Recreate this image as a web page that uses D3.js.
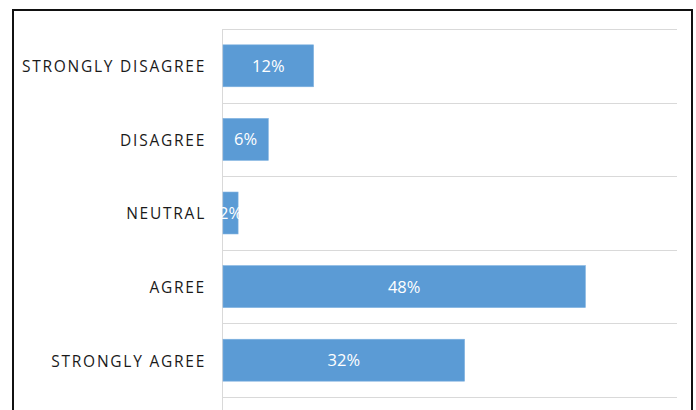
<!DOCTYPE html>
<html>
<head>
<meta charset="utf-8">
<script src="https://cdn.jsdelivr.net/npm/d3@7"></script>
<style>
  html, body { margin: 0; padding: 0; background: #fff; }
  svg { display: block; }
</style>
</head>
<body>
<svg id="chart" width="696" height="410"></svg>
<script>
// Survey response shares
const categories = ["STRONGLY DISAGREE", "DISAGREE", "NEUTRAL", "AGREE", "STRONGLY AGREE"];
const values = [12, 6, 2, 48, 32];
const valueLabels = ["12%", "6%", "2%", "48%", "32%"];

const svg = d3.select("#chart");

// Outer frame
svg.append("rect")
  .attr("x", 13).attr("y", 10)
  .attr("width", 679).attr("height", 420)
  .attr("fill", "none")
  .attr("stroke", "#111")
  .attr("stroke-width", 2);

const plot = { left: 222, right: 677, top: 29, bottom: 397 };

const x = d3.scaleLinear().domain([0, 60]).range([223, 676]);
const y = d3.scaleBand().domain(categories).range([plot.top, plot.bottom]).paddingInner(0.43).paddingOuter(0.215);

// Horizontal separators between categories
const gridYs = d3.range(categories.length + 1).map(i => plot.top + i * (plot.bottom - plot.top) / categories.length);
svg.append("g").selectAll("line")
  .data(gridYs)
  .join("line")
  .attr("x1", plot.left).attr("x2", plot.right)
  .attr("y1", d => Math.round(d) + 0.5).attr("y2", d => Math.round(d) + 0.5)
  .attr("stroke", "#d9d9d9").attr("stroke-width", 1);

// Category axis line
svg.append("line")
  .attr("x1", plot.left + 0.5).attr("x2", plot.left + 0.5)
  .attr("y1", plot.top).attr("y2", 410)
  .attr("stroke", "#d9d9d9").attr("stroke-width", 1);

// Bars
svg.append("g").selectAll("rect")
  .data(values)
  .join("rect")
  .attr("x", x(0))
  .attr("y", (d, i) => y(categories[i]))
  .attr("width", d => x(d) - x(0))
  .attr("height", y.bandwidth())
  .attr("fill", "#5b9bd5")
  .attr("stroke", "#7fb1e0")
  .attr("stroke-width", 0.6);

// Value labels inside bars
svg.append("g").selectAll("text")
  .data(values)
  .join("text")
  .attr("x", d => (x(d) + x(0)) / 2)
  .attr("y", (d, i) => y(categories[i]) + y.bandwidth() / 2)
  .attr("dy", "0.36em")
  .attr("text-anchor", "middle")
  .attr("fill", "#fff")
  .attr("font-family", "Open Sans, Lato, sans-serif")
  .attr("font-size", 16.5)
  .text((d, i) => valueLabels[i]);

// Category labels
svg.append("g").selectAll("text")
  .data(categories)
  .join("text")
  .attr("x", 206)
  .attr("y", d => y(d) + y.bandwidth() / 2 + 1)
  .attr("dy", "0.35em")
  .attr("text-anchor", "end")
  .attr("fill", "#1a1a1a")
  .attr("font-family", "Open Sans, Lato, sans-serif")
  .attr("font-size", 15.5)
  .attr("letter-spacing", "1.75px")
  .text(d => d);
</script>
</body>
</html>
